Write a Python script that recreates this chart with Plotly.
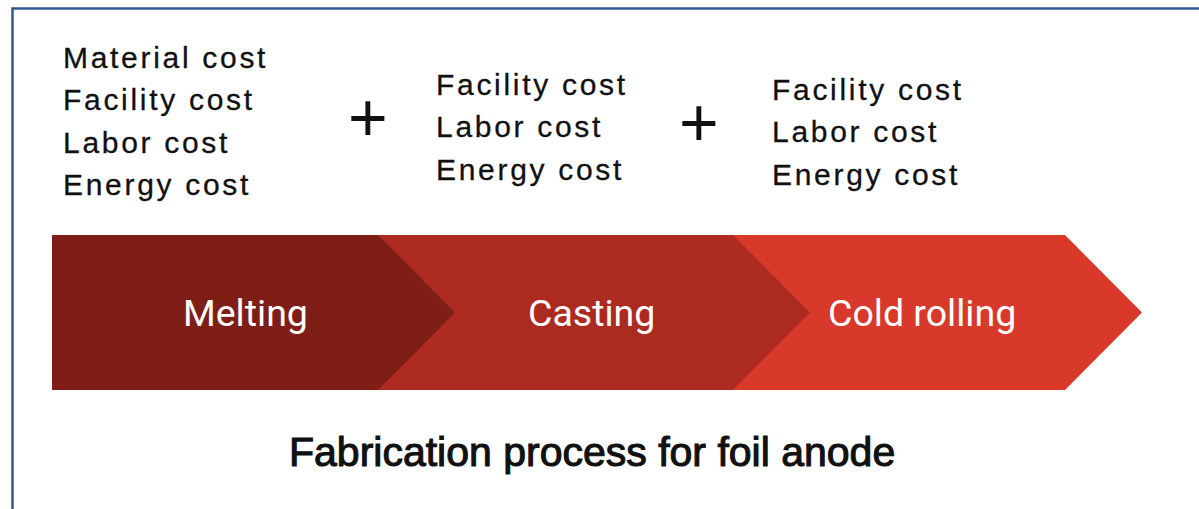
import plotly.graph_objects as go

# process stages, left to right
stages = ["Melting", "Casting", "Cold rolling"]
stage_colors = ["#7F1E17", "#AD2A20", "#D8392B"]
stage_costs = [
    ["Material cost", "Facility cost", "Labor cost", "Energy cost"],
    ["Facility cost", "Labor cost", "Energy cost"],
    ["Facility cost", "Labor cost", "Energy cost"],
]
title_text = "Fabrication process for foil anode"

W, H = 1199, 509

# layout of the arrow band (pixel space)
band_left = 52
band_right = [378, 733, 1065]
tip_depth = 77
band_top, band_bottom = 235, 390
band_mid = (band_top + band_bottom) / 2
label_x = [245, 591, 922]

# cost lists
cost_x = [61, 434, 770]
cost_y0 = [57, 84, 89]
cost_step = 42.6
plus_pos = [(368, 117), (699, 122)]

fig = go.Figure()

# draw right-most chevron first so that each earlier one overlaps the next
for i in reversed(range(len(stages))):
    x0 = band_left if i == 0 else band_right[i - 1]
    x1 = band_right[i]
    fig.add_trace(
        go.Scatter(
            x=[x0, x1, x1 + tip_depth, x1, x0, x0],
            y=[band_top, band_top, band_mid, band_bottom, band_bottom, band_top],
            mode="lines",
            fill="toself",
            fillcolor=stage_colors[i],
            line={"width": 0, "color": stage_colors[i]},
            hoverinfo="skip",
            showlegend=False,
        )
    )

annotations = []
for i, name in enumerate(stages):
    annotations.append(
        dict(
            x=label_x[i], y=band_mid, text=name, showarrow=False,
            xanchor="center", yanchor="middle",
            font={"family": "Roboto", "size": 37.5, "color": "white"},
        )
    )
    for j, cost in enumerate(stage_costs[i]):
        annotations.append(
            dict(
                x=cost_x[i], y=cost_y0[i] + j * cost_step,
                text=f"<span style='letter-spacing:2.7px;stroke:#111111;stroke-width:0.3px'>{cost}</span>",
                showarrow=False, xanchor="left", yanchor="middle",
                font={"family": "Liberation Sans", "size": 30, "color": "#111111"},
            )
        )

for px, py in plus_pos:
    annotations.append(
        dict(
            x=px, y=py, text="+", showarrow=False,
            xanchor="center", yanchor="middle",
            font={"family": "Liberation Sans", "size": 68, "color": "#111111"},
        )
    )

# medium-weight look: regular face with a thin outline
annotations.append(
    dict(
        x=592, y=452,
        text=f"<span style='stroke:#111111;stroke-width:1.1px'>{title_text}</span>",
        showarrow=False, xanchor="center", yanchor="middle",
        font={"family": "Liberation Sans", "size": 41, "color": "#111111"},
    )
)

fig.update_layout(
    width=W,
    height=H,
    margin={"l": 0, "r": 0, "t": 0, "b": 0},
    plot_bgcolor="white",
    paper_bgcolor="white",
    xaxis={"range": [0, W], "visible": False, "fixedrange": True},
    yaxis={"range": [H, 0], "visible": False, "fixedrange": True},
    annotations=annotations,
    shapes=[
        dict(
            type="path", xref="x", yref="y",
            path=f"M 12.5,{H} L 12.5,8.5 L {W},8.5",
            line={"color": "#2E5A96", "width": 2.5},
        )
    ],
    showlegend=False,
)

# page body has an 8px default margin; drop it so the figure sits at the window origin
fig.write_html(
    "out.html",
    config={"displayModeBar": False},
    post_script="document.body.style.margin='0';",
)
